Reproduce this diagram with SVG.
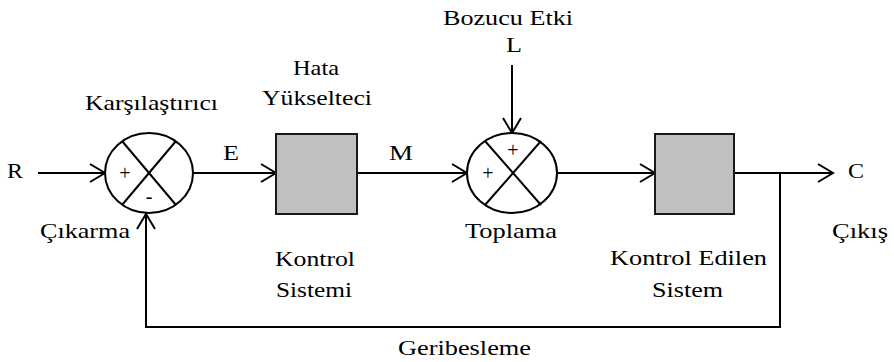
<svg xmlns="http://www.w3.org/2000/svg" width="894" height="362" viewBox="0 0 894 362">
<style>
text{font-family:"Liberation Serif","Times New Roman",serif;font-size:21px;fill:#000}
.sym{font-size:20px}
.ln{stroke:#000;stroke-width:2;fill:none}
.sum{fill:#fff;stroke:#000;stroke-width:2}
.blk{fill:#c0c0c0;stroke:#1a1a1a;stroke-width:2}
</style>
<defs>
<marker id="arr" markerUnits="userSpaceOnUse" markerWidth="20" markerHeight="24" refX="16" refY="11" orient="auto" overflow="visible">
<path d="M1,2 L16,11 L1,20" fill="none" stroke="#000" stroke-width="2"/>
</marker>
</defs>
<rect width="894" height="362" fill="#fff"/>
<g id="connectors">
<line class="ln" x1="38" y1="173" x2="105" y2="173" marker-end="url(#arr)"/>
<line class="ln" x1="193" y1="173" x2="276" y2="173" marker-end="url(#arr)"/>
<line class="ln" x1="357" y1="173" x2="467" y2="173" marker-end="url(#arr)"/>
<line class="ln" x1="512" y1="65" x2="512" y2="133" marker-end="url(#arr)"/>
<line class="ln" x1="557" y1="173" x2="655" y2="173" marker-end="url(#arr)"/>
<line class="ln" x1="734" y1="173" x2="833" y2="173" marker-end="url(#arr)"/>
<polyline class="ln" points="780,173 780,327 146,327 146,214" marker-end="url(#arr)"/>
</g>
<g id="karsilastirici">
<ellipse class="sum" cx="149" cy="173" rx="44" ry="40"/>
<line class="ln" x1="122" y1="141" x2="176" y2="205"/>
<line class="ln" x1="176" y1="141" x2="122" y2="205"/>
<text class="sym" x="125" y="180" text-anchor="middle">+</text>
<text class="sym" x="149" y="203" text-anchor="middle">-</text>
<text x="85" y="110" textLength="133" lengthAdjust="spacingAndGlyphs">Karşılaştırıcı</text>
<text x="40" y="238" textLength="90" lengthAdjust="spacingAndGlyphs">Çıkarma</text>
</g>
<g id="toplama">
<ellipse class="sum" cx="512" cy="173" rx="45" ry="40"/>
<line class="ln" x1="485" y1="141" x2="541" y2="205"/>
<line class="ln" x1="541" y1="141" x2="485" y2="205"/>
<text class="sym" x="513" y="157" text-anchor="middle">+</text>
<text class="sym" x="488" y="180" text-anchor="middle">+</text>
<text x="465" y="238" textLength="92" lengthAdjust="spacingAndGlyphs">Toplama</text>
</g>
<g id="kontrol-sistemi">
<rect class="blk" x="276" y="134" width="81" height="80"/>
<text x="293" y="75" textLength="46" lengthAdjust="spacingAndGlyphs">Hata</text>
<text x="262" y="105" textLength="110" lengthAdjust="spacingAndGlyphs">Yükselteci</text>
<text x="275" y="266" textLength="80" lengthAdjust="spacingAndGlyphs">Kontrol</text>
<text x="276" y="297" textLength="76" lengthAdjust="spacingAndGlyphs">Sistemi</text>
</g>
<g id="kontrol-edilen-sistem">
<rect class="blk" x="655" y="134" width="79" height="80"/>
<text x="610" y="265" textLength="157" lengthAdjust="spacingAndGlyphs">Kontrol Edilen</text>
<text x="652" y="297" textLength="71" lengthAdjust="spacingAndGlyphs">Sistem</text>
</g>
<g id="labels">
<text x="7" y="178" textLength="16" lengthAdjust="spacingAndGlyphs">R</text>
<text x="223" y="160" textLength="16" lengthAdjust="spacingAndGlyphs">E</text>
<text x="389" y="160" textLength="24" lengthAdjust="spacingAndGlyphs">M</text>
<text x="848" y="178" textLength="16" lengthAdjust="spacingAndGlyphs">C</text>
<text x="832" y="238" textLength="56" lengthAdjust="spacingAndGlyphs">Çıkış</text>
<text x="443" y="25" textLength="130" lengthAdjust="spacingAndGlyphs">Bozucu Etki</text>
<text x="506" y="52" textLength="16" lengthAdjust="spacingAndGlyphs">L</text>
<text x="398" y="355" textLength="133" lengthAdjust="spacingAndGlyphs">Geribesleme</text>
</g>
</svg>
